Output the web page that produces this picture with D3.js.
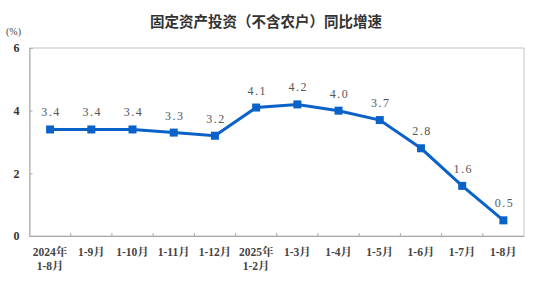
<!DOCTYPE html>
<html>
<head>
<meta charset="utf-8">
<script src="https://cdn.jsdelivr.net/npm/d3@7"></script>
<style>
  body { margin: 0; background: #fff; }
  svg { display: block; }
</style>
</head>
<body>
<div id="chart"></div>
<script>
// chart data
var categories = ["2024年\n1-8月", "1-9月", "1-10月", "1-11月", "1-12月", "2025年\n1-2月",
    "1-3月", "1-4月", "1-5月", "1-6月", "1-7月", "1-8月"];
var growth = [3.4, 3.4, 3.4, 3.3, 3.2, 4.1, 4.2, 4.0, 3.7, 2.8, 1.6, 0.5];
var yTicks = [0, 2, 4, 6];

var svgWidth = 544;
var svgHeight = 294;
var margin = { top: 48, right: 20, bottom: 58, left: 29.5 };
var width = svgWidth - margin.left - margin.right;
var height = svgHeight - margin.top - margin.bottom;

var svg = d3.select("#chart").append("svg")
    .attr("width", svgWidth)
    .attr("height", svgHeight);

var serif = "'Liberation Serif', 'Noto Serif CJK SC', 'Noto Sans CJK SC', serif";

// title
svg.append("text")
    .attr("x", 266)
    .attr("y", 27)
    .attr("text-anchor", "middle")
    .attr("font-family", "'Noto Sans CJK SC', sans-serif")
    .attr("font-size", "14.5px")
    .attr("font-weight", "bold")
    .attr("fill", "#333")
    .text("固定资产投资（不含农户）同比增速");

svg.append("text")
    .attr("x", 6)
    .attr("y", 35)
    .attr("font-family", serif)
    .attr("font-size", "10px")
    .attr("fill", "#444")
    .text("(%)");

var g = svg.append("g")
    .attr("transform", `translate(${margin.left}, ${margin.top})`);

var x = d3.scaleBand()
    .domain(categories)
    .range([0, width]);

var y = d3.scaleLinear()
    .domain([0, 6])
    .range([height, 0]);

// frame
g.append("rect")
    .attr("width", width)
    .attr("height", height)
    .attr("fill", "none")
    .attr("stroke", "#c4c4c4")
    .attr("stroke-width", 1);

// y axis
var yAxis = g.append("g")
    .call(d3.axisLeft(y).tickValues(yTicks).tickSize(-3).tickPadding(10).tickFormat(d3.format("d")));
yAxis.select(".domain").attr("stroke", "#aaa");
yAxis.selectAll(".tick line").attr("stroke", "#aaa");
yAxis.selectAll("text")
    .attr("font-family", serif)
    .attr("font-size", "12px")
    .attr("font-weight", "bold")
    .attr("fill", "#333");

// x axis, ticks between categories
var xAxis = g.append("g")
    .attr("transform", `translate(0, ${height})`)
    .call(d3.axisBottom(x).tickSize(0).tickFormat(""));
xAxis.select(".domain").attr("stroke", "#aaa");

g.selectAll(".xtick")
    .data(categories.slice(1))
    .enter()
    .append("line")
    .attr("x1", d => x(d))
    .attr("x2", d => x(d))
    .attr("y1", height)
    .attr("y2", height - 3)
    .attr("stroke", "#aaa");

var xLabels = g.selectAll(".xlabel")
    .data(categories)
    .enter()
    .append("text")
    .attr("x", d => x(d) + x.bandwidth() / 2)
    .attr("y", height + 20)
    .attr("text-anchor", "middle")
    .attr("font-family", serif)
    .attr("font-size", "11.5px")
    .attr("font-weight", "bold")
    .attr("fill", "#444");

xLabels.each(function(d) {
    var lines = d.split("\n");
    var t = d3.select(this);
    lines.forEach(function(l, i) {
        t.append("tspan")
            .attr("x", x(d) + x.bandwidth() / 2)
            .attr("dy", i === 0 ? 0 : 14)
            .text(l);
    });
});

// line
var line = d3.line()
    .x((d, i) => x(categories[i]) + x.bandwidth() / 2)
    .y(d => y(d));

g.append("path")
    .datum(growth)
    .attr("fill", "none")
    .attr("stroke", "#0a62c9")
    .attr("stroke-width", 3)
    .attr("d", line);

g.selectAll(".marker")
    .data(growth)
    .enter()
    .append("rect")
    .attr("x", (d, i) => x(categories[i]) + x.bandwidth() / 2 - 4)
    .attr("y", d => y(d) - 4)
    .attr("width", 8)
    .attr("height", 8)
    .attr("fill", "#0a62c9");

g.selectAll(".vlabel")
    .data(growth)
    .enter()
    .append("text")
    .attr("x", (d, i) => x(categories[i]) + x.bandwidth() / 2 + 1)
    .attr("y", d => y(d) - 13)
    .attr("text-anchor", "middle")
    .attr("font-family", serif)
    .attr("font-size", "12px")
    .attr("fill", "#555")
    .attr("letter-spacing", "1.5px")
    .text(d => d.toFixed(1));
</script>
</body>
</html>
